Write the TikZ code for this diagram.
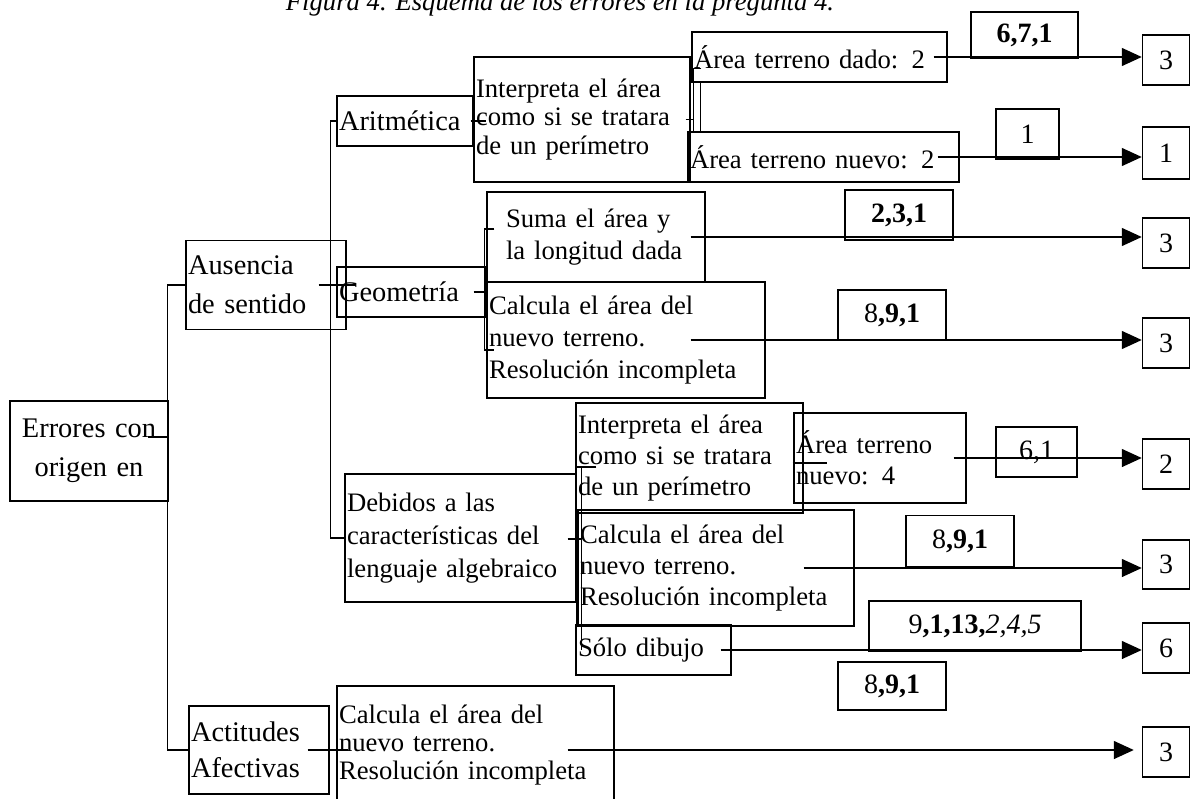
\documentclass[tikz,border=0pt]{standalone}
\usepackage{fontspec}
\setmainfont{Liberation Serif}
\usetikzlibrary{arrows.meta}
\tikzset{
  caja/.style 2 args={draw, line width=1.1pt, inner xsep=1.5pt, inner ysep=0pt,
    minimum width=#1*0.75pt, minimum height=#2*0.75pt, text width=#1*0.75pt-3pt, align=left},
  num/.style 2 args={draw, line width=1.1pt, inner sep=0pt, font=\fontsize{21}{24}\selectfont,
    minimum width=#1*0.75pt, minimum height=#2*0.75pt, align=center},
  fs/.style={font=\fontsize{20}{#1}\selectfont},
  fg/.style={font=\fontsize{21.3}{#1}\selectfont},
  enlace/.style={line width=1.1pt},
  flecha/.style={line width=1.1pt, -{Triangle[length=15pt,width=13.5pt]}}
}
\begin{document}
\begin{tikzpicture}[x=0.75pt, y=-0.75pt, fs=24]
    \clip (0,0) rectangle (1192,799);

    \node[anchor=base, font=\fontsize{20}{24}\selectfont\itshape] (titulo) at (560,11) {Figura 4. Esquema de los errores en la pregunta 4.};

    % cajas
    \node[caja={158}{100}, align=center, fg=29] (err) at (89,451) {Errores con\\origen en};
    \node[caja={160}{89}, fg=29] (aus) at (266,285) {Ausencia\\de sentido};
    \node[caja={136}{50}, fg=24] (arit) at (405,121) {Aritmética};
    \node[caja={216}{125}, fs=21.5] (int1) at (582,119.5) {Interpreta el área\\como si se tratara\\de un perímetro};
    \node[caja={255}{50}] (dado) at (819.5,57) {Área terreno dado: 2};
    \node[caja={271}{50}] (nuevo) at (823.5,157) {Área terreno nuevo: 2};
    \node[caja={148}{50}, fg=24] (geo) at (411,292) {Geometría};
    \node[caja={218}{90}, fs=24, text width=180*0.75pt] (suma) at (596,237) {Suma el área y\\la longitud dada};
    \node[caja={278}{116}, fs=24] (calc1) at (626,340) {Calcula el área del\\nuevo terreno.\\Resolución incompleta};
    \node[caja={231}{128}, fs=25] (deb) at (460.5,538) {Debidos a las\\características del\\lenguaje algebraico};
    \node[caja={227}{110}, fs=23.5] (int2) at (689.5,458) {Interpreta el área\\como si se tratara\\de un perímetro};
    \node[caja={172}{90}, fs=23] (nuevo4) at (880,458) {Área terreno\\nuevo: 4};
    \node[caja={276}{116}, fs=23.5] (calc2) at (716,568) {Calcula el área del\\nuevo terreno.\\Resolución incompleta};
    \node[caja={155}{50}] (solo) at (653.5,650) {Sólo dibujo};
    \node[caja={140}{88}, fg=27] (act) at (259,750) {Actitudes\\Afectivas};
    \node[caja={277}{118}, fs=21] (calc3) at (475.5,745) {Calcula el área del\\nuevo terreno.\\Resolución incompleta};

    % frecuencias
    \node[num={107}{46}] (l671) at (1024.5,35) {\textbf{6,7,1}};
    \node[num={63}{50}] (l1) at (1027.5,134) {1};
    \node[num={108}{50}] (l231) at (899,215) {\textbf{2,3,1}};
    \node[num={108}{50}] (l891a) at (892,315) {8\textbf{,9,1}};
    \node[num={81}{50}] (l61) at (1036.5,452) {6,1};
    \node[num={108}{51}] (l891b) at (960,541) {8\textbf{,9,1}};
    \node[num={212}{50}] (l9113) at (975,626) {9\textbf{,1,13,}\textit{2,4,5}};
    \node[num={108}{48}] (l891c) at (892,686) {8\textbf{,9,1}};

    % totales
    \node[num={47}{50}] (r3a) at (1166,60) {3};
    \node[num={47}{52}] (r1) at (1166,153) {1};
    \node[num={47}{50}] (r3b) at (1166,243) {3};
    \node[num={47}{50}] (r3c) at (1166,343) {3};
    \node[num={47}{50}] (r2) at (1166,464) {2};
    \node[num={47}{49}] (r3d) at (1166,564.5) {3};
    \node[num={47}{50}] (r6) at (1166,648) {6};
    \node[num={47}{50}] (r3e) at (1166,752) {3};

    % tronco principal
    \draw[enlace] ([shift={(-21,-14)}]err.east) -- ([shift={(0,-14)}]err.east);
    \draw[enlace] (aus.west) -- ++(-18,0) |- (act.west);

    % ausencia de sentido
    \draw[enlace] ([shift={(-28,0)}]aus.east) -- ++(37,0);
    \draw[enlace] (arit.west) -- ++(-6,0) |- (deb.west);

    % aritmetica
    \draw[enlace] ([shift={(-3,0)}]arit.east) -- ++(15,0);
    \draw[enlace] ([shift={(-5,0)}]int1.east) -- ++(8,0) coordinate (c1);
    \draw[enlace] ([shift={(10,-14)}]dado.south west) -| (c1) -- (c1 |- nuevo.north);
    \path ([shift={(9,0)}]dado.south west) coordinate (c2);
    \draw[enlace] (c2) -- (c2 |- nuevo.north);
    \draw[flecha] ([shift={(-14,0)}]dado.east) -- (dado.east -| r3a.west);
    \draw[flecha] ([shift={(-22,0)}]nuevo.east) -- (nuevo.east -| r1.west);

    % geometria
    \draw[enlace] ([shift={(-12,0)}]geo.east) -- (geo.east);
    \draw[enlace] ([shift={(8,-8)}]suma.west) -| ([shift={(-2,10)}]calc1.west) -- ([shift={(8,10)}]calc1.west);
    \draw[flecha] ([shift={(-15,0)}]suma.east) -- (suma.east -| r3b.west);
    \draw[flecha] ([shift={(-75,0)}]calc1.east) -- (calc1.east -| r3c.west);

    % lenguaje algebraico
    \draw[enlace] ([shift={(-9,1)}]deb.east) -- ++(13,0);
    \draw[enlace] ([shift={(21,9)}]int2.west) -| ([shift={(1,0)}]solo.west);
    \draw[enlace] ([shift={(6,9)}]int2.west) -- ([shift={(6,0)}]solo.west);
    \draw[enlace] ([shift={(-11,5)}]int2.east) -- ++(34,0);
    \draw[flecha] ([shift={(-13,0)}]nuevo4.east) -- (nuevo4.east -| r2.west);
    \draw[flecha] ([shift={(-51,0)}]calc2.east) -- (calc2.east -| r3d.west);
    \draw[flecha] ([shift={(-11,0)}]solo.east) -- (solo.east -| r6.west);

    % actitudes
    \draw[enlace] ([shift={(-22,0)}]act.east) -- ++(40,0);
    \path (calc3.east |- act.east) ++(-47,0) coordinate (c3);
    \path (act.east -| r3e.west) ++(-8,0) coordinate (c4);
    \draw[flecha] (c3) -- (c4);

\end{tikzpicture}
\end{document}
